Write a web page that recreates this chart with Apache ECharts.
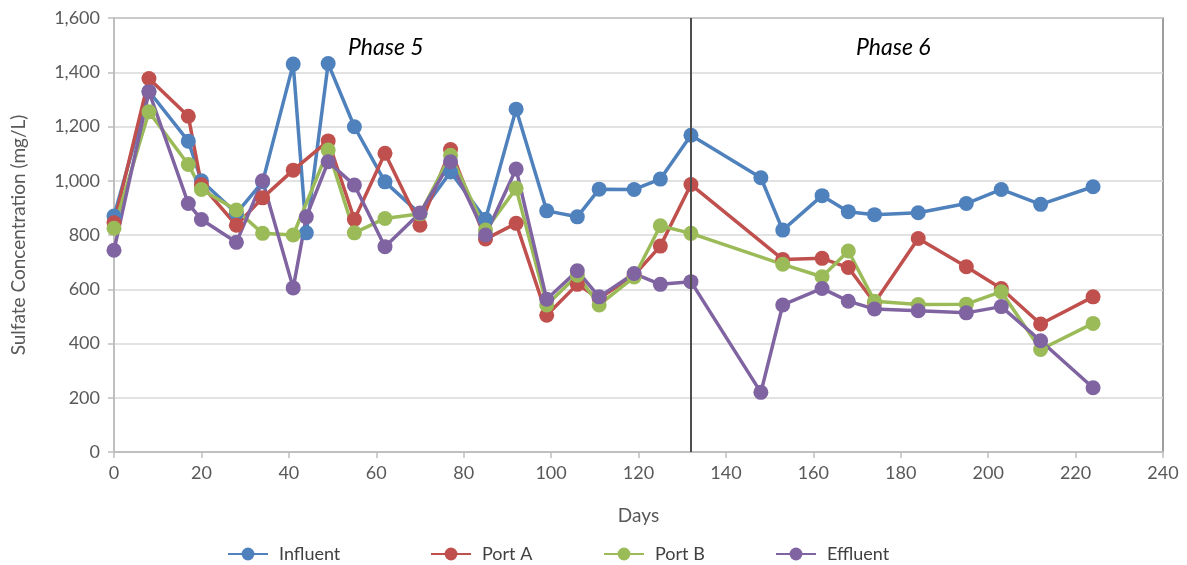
<!DOCTYPE html>
<html>
<head>
<meta charset="utf-8">
<script src="https://cdn.jsdelivr.net/npm/echarts@6/dist/echarts.min.js"></script>
<style>html,body{margin:0;padding:0;background:#fff;}#c{width:1187px;height:565px;}</style>
</head>
<body>
<div id="c"></div>
<script>
const influentDays = [0,8,17,20,28,34,41,44,49,55,62,70,77,85,92,99,106,111,119,125,132,148,153,162,168,174,184,195,203,212,224];
const influent     = [870,1330,1146,1000,880,996,1430,808,1432,1199,996,878,1032,858,1264,889,867,969,968,1006,1168,1011,818,945,886,875,882,916,968,913,978];

const portADays = [0,8,17,20,28,34,41,49,55,62,70,77,85,92,99,106,111,119,125,132,153,162,168,174,184,195,203,212,224];
const portA     = [845,1377,1238,985,836,937,1039,1147,857,1101,836,1115,785,843,504,618,566,652,759,986,710,714,680,550,787,683,603,472,572];

const portBDays = [0,8,17,20,28,34,41,49,55,62,70,77,85,92,99,106,111,119,125,132,153,162,168,174,184,195,203,212,224];
const portB     = [825,1254,1060,968,892,806,800,1113,808,861,878,1094,818,972,542,652,542,645,834,806,692,646,741,556,544,545,591,378,474];

const effluentDays = [0,8,17,20,28,34,41,44,49,55,62,70,77,85,92,99,106,111,119,125,132,148,153,162,168,174,184,195,203,212,224];
const effluent     = [744,1328,916,857,773,1000,605,867,1070,984,757,881,1070,800,1043,563,668,572,658,618,628,220,542,603,556,527,521,513,536,410,237];

const phaseBoundary = 132;
const seriesNames = ['Influent','Port A','Port B','Effluent'];
const colors = ['#4F81BD','#C0504D','#9BBB59','#8064A2'];

const FONT = 'Lato';
const zip = (xs, ys) => xs.map((x, i) => [x, ys[i]]);

const chart = echarts.init(document.getElementById('c'));

function mkSeries(name, data, color, extra) {
  return Object.assign({
    name: name,
    type: 'line',
    data: data,
    symbol: 'circle',
    symbolSize: 15,
    color: color,
    lineStyle: { width: 3.5, color: color },
    itemStyle: { color: color },
    animation: false
  }, extra || {});
}

const legendLefts = [222, 425, 598, 770];

chart.setOption({
  animation: false,
  textStyle: { fontFamily: FONT },
  grid: { left: 114, right: 24, top: 18, bottom: 113, show: true, borderColor: '#7f7f7f', borderWidth: 1.5 },
  legend: seriesNames.map((n, i) => ({
    data: [n],
    left: legendLefts[i],
    top: 540,
    itemWidth: 40,
    itemHeight: 16,
    textStyle: { fontFamily: FONT, fontSize: 18, color: '#404040', padding: [0, 0, 0, 6] }
  })),
  xAxis: {
    type: 'value', min: 0, max: 240, interval: 20,
    name: 'Days', nameLocation: 'middle', nameGap: 54,
    nameTextStyle: { fontFamily: FONT, fontSize: 19, color: '#595959' },
    axisLine: { show: true, onZero: false, lineStyle: { color: '#bfbfbf', width: 2 } },
    axisTick: { show: true, length: 6, lineStyle: { color: '#bfbfbf', width: 1.5 } },
    axisLabel: { fontFamily: FONT, fontSize: 18, color: '#595959', margin: 12 },
    splitLine: { show: false }
  },
  yAxis: {
    type: 'value', min: 0, max: 1600, interval: 200,
    name: 'Sulfate Concentration (mg/L)', nameLocation: 'middle', nameGap: 86,
    nameTextStyle: { fontFamily: FONT, fontSize: 19, color: '#595959' },
    axisLine: { show: true, lineStyle: { color: '#bfbfbf', width: 2 } },
    axisTick: { show: true, length: 6, lineStyle: { color: '#bfbfbf', width: 1.5 } },
    axisLabel: { fontFamily: FONT, fontSize: 18, color: '#595959', margin: 14,
      formatter: v => v.toLocaleString('en-US') },
    splitLine: { show: true, lineStyle: { color: '#d9d9d9', width: 1.5 } }
  },
  series: [
    mkSeries('Influent', zip(influentDays, influent), colors[0], {
      markLine: {
        silent: true, symbol: 'none', animation: false,
        label: { show: false },
        lineStyle: { color: '#4d4d4d', width: 2, type: 'solid' },
        data: [{ xAxis: phaseBoundary }]
      }
    }),
    mkSeries('Port A', zip(portADays, portA), colors[1]),
    mkSeries('Port B', zip(portBDays, portB), colors[2]),
    mkSeries('Effluent', zip(effluentDays, effluent), colors[3])
  ],
  graphic: [
    { type: 'text', left: 348, top: 36, z: 100,
      style: { text: 'Phase 5', font: 'italic 23px ' + FONT, fill: '#000' } },
    { type: 'text', left: 856, top: 36, z: 100,
      style: { text: 'Phase 6', font: 'italic 23px ' + FONT, fill: '#000' } }
  ]
});
</script>
</body>
</html>
